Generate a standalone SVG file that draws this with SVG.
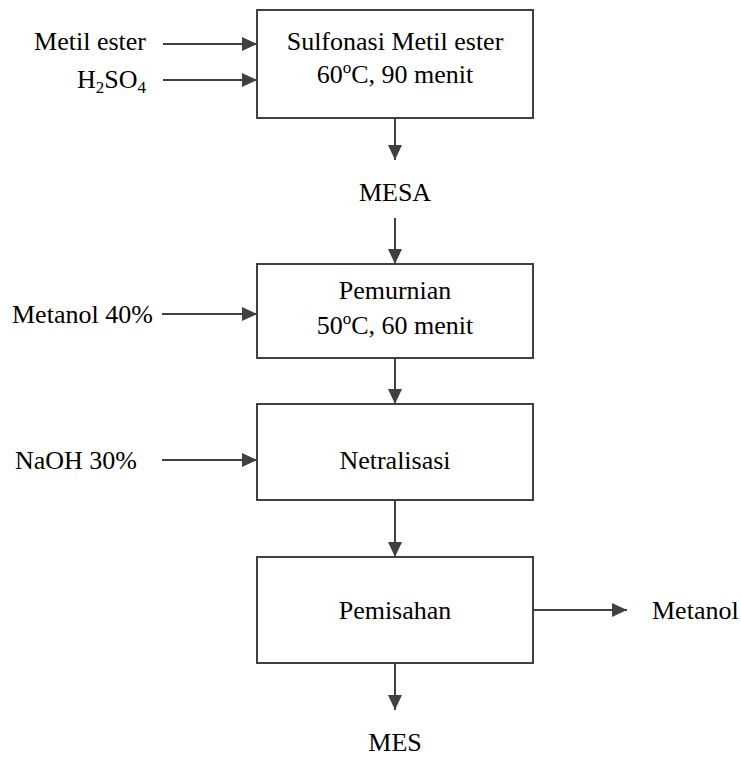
<svg xmlns="http://www.w3.org/2000/svg" width="741" height="765" viewBox="0 0 741 765">
<defs>
<marker id="ah" markerUnits="userSpaceOnUse" markerWidth="16" markerHeight="14" refX="15" refY="7" orient="auto">
<path d="M0,0 L15,7 L0,14 Z" fill="#404040"/>
</marker>
<style>
text{font-family:"Liberation Serif","Times New Roman",serif;font-size:26px;fill:#000}
.c{text-anchor:middle}
rect{fill:#fff;stroke:#404040;stroke-width:2}
line{stroke:#404040;stroke-width:2;marker-end:url(#ah)}
</style>
</defs>
<rect width="741" height="765" fill="#fff" style="stroke:none"/>
<g id="connectors">
<line x1="163" y1="44" x2="257" y2="44"/>
<line x1="163" y1="80" x2="257" y2="80"/>
<line x1="395" y1="118" x2="395" y2="160"/>
<line x1="395" y1="218" x2="395" y2="264"/>
<line x1="162" y1="314" x2="257" y2="314"/>
<line x1="395" y1="358" x2="395" y2="404"/>
<line x1="162" y1="460" x2="257" y2="460"/>
<line x1="395" y1="500" x2="395" y2="557"/>
<line x1="533" y1="610" x2="627" y2="610"/>
<line x1="395" y1="663" x2="395" y2="710"/>
</g>
<g id="in-metil"><text x="146" y="50" text-anchor="end">Metil ester</text></g>
<g id="in-h2so4"><text x="146" y="88" text-anchor="end">H<tspan font-size="17" dy="5">2</tspan><tspan dy="-5">SO</tspan><tspan font-size="17" dy="5">4</tspan></text></g>
<g id="sulfonasi">
<rect x="257" y="10" width="276" height="108"/>
<text class="c" x="395" y="50">Sulfonasi Metil ester</text>
<text class="c" x="395" y="83">60<tspan font-size="17" dy="-10">o</tspan><tspan dy="10">C, 90 menit</tspan></text>
</g>
<g id="mesa"><text class="c" x="395" y="201">MESA</text></g>
<g id="in-metanol"><text x="12" y="323">Metanol 40%</text></g>
<g id="pemurnian">
<rect x="257" y="264" width="276" height="94"/>
<text class="c" x="395" y="299">Pemurnian</text>
<text class="c" x="395" y="334">50<tspan font-size="17" dy="-10">o</tspan><tspan dy="10">C, 60 menit</tspan></text>
</g>
<g id="in-naoh"><text x="15" y="469">NaOH 30%</text></g>
<g id="netralisasi">
<rect x="257" y="404" width="276" height="96"/>
<text class="c" x="395" y="469">Netralisasi</text>
</g>
<g id="pemisahan">
<rect x="257" y="557" width="276" height="106"/>
<text class="c" x="395" y="619">Pemisahan</text>
</g>
<g id="out-metanol"><text x="652" y="619">Metanol</text></g>
<g id="mes"><text class="c" x="395" y="751">MES</text></g>
</svg>
